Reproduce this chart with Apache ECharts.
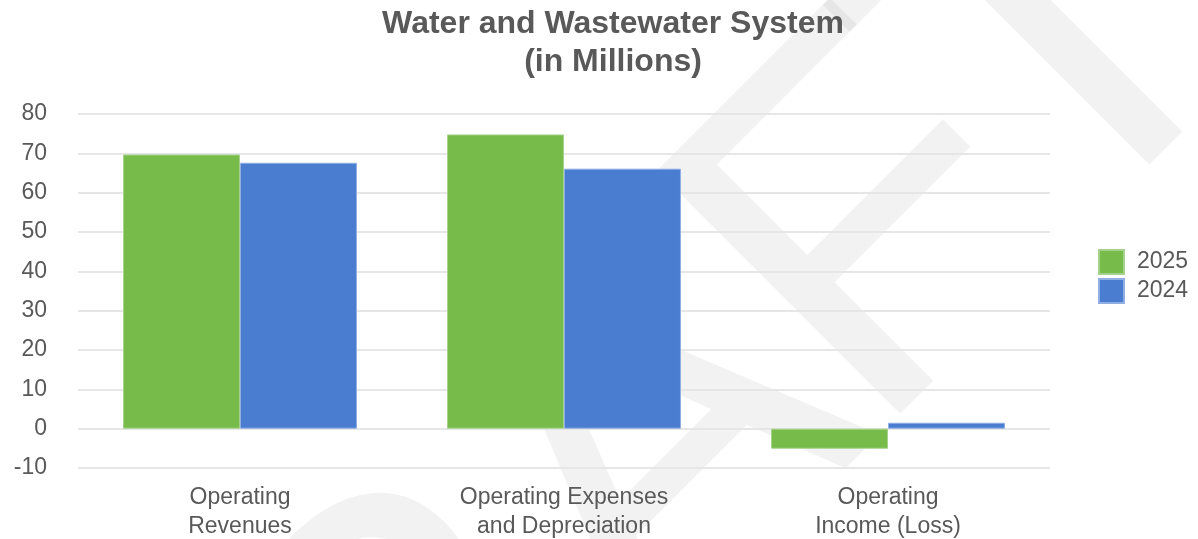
<!DOCTYPE html>
<html>
<head>
<meta charset="utf-8">
<script src="https://cdn.jsdelivr.net/npm/echarts@6/dist/echarts.min.js"></script>
<style>
  html, body { margin: 0; padding: 0; background: #fff; }
  #chart { width: 1198px; height: 539px; }
</style>
</head>
<body>
<div id="chart"></div>
<script>
// data (in millions)
const categories = ['Operating\nRevenues', 'Operating Expenses\nand Depreciation', 'Operating\nIncome (Loss)']
const values2025 = [69.7, 74.8, -5.1]
const values2024 = [67.6, 66.1, 1.5]
const seriesNames = ['2025', '2024']

// watermark letters and their offsets along the rotated baseline
const watermarkLetters = ['D', 'R', 'A', 'F', 'T']
const watermarkOffsets = [-740, -379, -18, 303, 567]

const chart = echarts.init(document.getElementById('chart'))
const textColor = '#595959'
const font = 'Liberation Sans, Arial, sans-serif'
const wmSize = 500

const option = {
  animation: false,
  color: ['#77bb4a', '#4a7cd0'],
  textStyle: { fontFamily: font },
  title: {
    text: 'Water and Wastewater System\n(in Millions)',
    left: 608,
    textAlign: 'center',
    top: 0,
    textStyle: {
      color: textColor,
      fontSize: 32,
      fontWeight: 'bold',
      lineHeight: 38,
      fontFamily: font
    }
  },
  legend: {
    orient: 'vertical',
    left: 1098,
    top: 249,
    padding: 0,
    itemWidth: 25,
    itemHeight: 24,
    itemGap: 3,
    icon: 'rect',
    data: seriesNames,
    textStyle: { color: textColor, fontSize: 23, lineHeight: 24, fontFamily: font, padding: [0, 0, 0, 8] }
  },
  grid: {
    left: 78,
    right: 148,
    top: 114,
    bottom: 71,
    containLabel: false,
    outerBoundsMode: 'none'
  },
  xAxis: {
    type: 'category',
    data: categories,
    axisLine: { show: false },
    axisTick: { show: false },
    axisLabel: {
      color: textColor,
      fontSize: 23,
      lineHeight: 29,
      margin: 15,
      fontFamily: font
    }
  },
  yAxis: {
    type: 'value',
    min: -10,
    max: 80,
    interval: 10,
    axisLine: { show: false },
    axisTick: { show: false },
    axisLabel: {
      color: textColor,
      fontSize: 23,
      margin: 31,
      padding: [4, 0, 0, 0],
      fontFamily: font
    },
    splitLine: { lineStyle: { color: '#e6e6e6', width: 2 } }
  },
  series: [
    {
      name: seriesNames[0],
      type: 'bar',
      data: values2025,
      barGap: '0%',
      barCategoryGap: '27.8%',
      itemStyle: { borderColor: '#a5d28a', borderWidth: 1 }
    },
    {
      name: seriesNames[1],
      type: 'bar',
      data: values2024,
      itemStyle: { borderColor: '#8eaee4', borderWidth: 1 }
    }
  ],
  graphic: [
    {
      type: 'group',
      x: 682,
      y: 682,
      rotation: Math.PI / 4,
      z: 100,
      silent: true,
      children: watermarkLetters.map((ch, i) => ({
        type: 'text',
        x: watermarkOffsets[i],
        y: -0.3465 * wmSize,
        style: {
          text: ch,
          fontSize: wmSize,
          fontFamily: font,
          fill: 'rgba(0,0,0,0.05)',
          align: 'left',
          verticalAlign: 'middle'
        }
      }))
    }
  ]
}

chart.setOption(option)
</script>
</body>
</html>
